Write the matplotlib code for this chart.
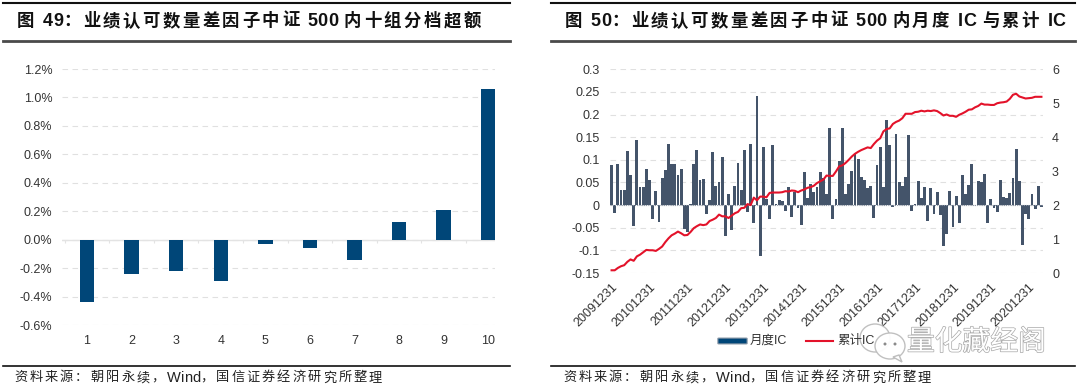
import numpy as np
import matplotlib
matplotlib.use('Agg')
import matplotlib.pyplot as plt
import matplotlib.patheffects as pe
from matplotlib.patches import Ellipse, Polygon, FancyBboxPatch
from matplotlib.lines import Line2D

plt.rcParams['font.family'] = ['Liberation Sans', 'Noto Sans CJK SC']
plt.rcParams['axes.unicode_minus'] = False

# left chart
groups = [1, 2, 3, 4, 5, 6, 7, 8, 9, 10]
excess = [-0.44, -0.24, -0.22, -0.29, -0.03, -0.06, -0.14, 0.125, 0.21, 1.06]
left_ticks = [-0.6, -0.4, -0.2, 0.0, 0.2, 0.4, 0.6, 0.8, 1.0, 1.2]

# right chart
monthly_ic = [
    0.089, -0.018, 0.091, 0.034, 0.033, 0.12, 0.067, -0.047, 0.144, 0.04,
    0.04, 0.08, 0.056, -0.03, 0.031, -0.038, 0.06, 0.078, 0.134, 0.09,
    0.09, 0.067, 0.079, -0.053, -0.06, 0.002, 0.09, 0.121, 0.055, 0.057,
    -0.02, 0.012, 0.118, 0.043, 0.052, 0.106, -0.068, 0.024, -0.055, 0.042,
    0.094, 0.034, 0.122, -0.015, 0.135, -0.04, 0.241, -0.113, 0.129, 0.014,
    -0.03, 0.133, 0.003, 0.012, 0.008, -0.014, 0.041, -0.026, 0.03, -0.006,
    -0.045, 0.074, 0.016, 0.046, 0.028, 0.04, 0.074, 0.06, 0.024, 0.17,
    -0.03, 0.014, 0.097, 0.17, 0.024, 0.046, 0.075, 0.113, 0.102, 0.063,
    0.056, 0.037, 0.043, -0.028, 0.089, 0.129, 0.041, 0.188, 0.133, -0.004,
    0.156, 0.051, 0.043, 0.063, 0.154, -0.012, 0.002, 0.054, 0.016, 0.041,
    -0.036, 0.037, -0.02, 0.03, -0.022, -0.091, -0.063, 0.032, -0.049, 0.02,
    -0.04, 0.067, 0.024, 0.044, 0.09, 0.001, 0.054, 0.052, 0.069, -0.04,
    0.014, -0.007, -0.015, 0.055, 0.018, 0.015, 0.026, 0.06, 0.124, 0.054,
    -0.089, -0.02, -0.031, 0.024, -0.009, 0.042, -0.004,
]
cum_ic = [
    0.08, 0.08, 0.15, 0.2, 0.23, 0.33, 0.4, 0.36, 0.49, 0.54,
    0.61, 0.68, 0.67, 0.67, 0.65, 0.71, 0.78, 0.91, 1.02, 1.11,
    1.16, 1.22, 1.17, 1.11, 1.12, 1.21, 1.32, 1.38, 1.43, 1.41,
    1.43, 1.53, 1.57, 1.62, 1.72, 1.67, 1.67, 1.62, 1.69, 1.76,
    1.8, 1.91, 1.92, 2.03, 2.0, 2.22, 2.14, 2.25, 2.25, 2.23,
    2.36, 2.37, 2.37, 2.37, 2.38, 2.41, 2.4, 2.43, 2.42, 2.38,
    2.43, 2.46, 2.51, 2.53, 2.57, 2.65, 2.7, 2.75, 2.87, 2.86,
    2.86, 2.99, 3.14, 3.17, 3.24, 3.33, 3.43, 3.51, 3.57, 3.62,
    3.66, 3.7, 3.68, 3.8, 3.9, 3.97, 4.17, 4.24, 4.26, 4.39,
    4.45, 4.49, 4.56, 4.69, 4.69, 4.69, 4.74, 4.75, 4.78, 4.76,
    4.78, 4.77, 4.79, 4.77, 4.71, 4.64, 4.67, 4.63, 4.63, 4.6,
    4.66, 4.7, 4.75, 4.81, 4.82, 4.88, 4.92, 4.99, 4.96, 4.96,
    4.95, 4.95, 5.0, 5.02, 5.03, 5.05, 5.13, 5.25, 5.28, 5.2,
    5.17, 5.14, 5.15, 5.16, 5.19, 5.19, 5.19,
]
date_labels = ['20091231', '20101231', '20111231', '20121231', '20131231', '20141231',
               '20151231', '20161231', '20171231', '20181231', '20191231', '20201231']
ic_ticks = [-0.15, -0.1, -0.05, 0, 0.05, 0.1, 0.15, 0.2, 0.25, 0.3]
ic_tick_labels = ['-0.15', '-0.1', '-0.05', '0', '0.05', '0.1', '0.15', '0.2', '0.25', '0.3']
cum_ticks = [0, 1, 2, 3, 4, 5, 6]

titles = ['图 49:业绩认可数量差因子中证 500 内十组分档超额'.replace(':', '\uff1a'),
          '图 50:业绩认可数量差因子中证 500 内月度 IC 与累计 IC'.replace(':', '\uff1a')]
source = '资料来源\uff1a朝阳永续\uff0cWind\uff0c国信证券经济研究所整理'
legend_labels = ['月度IC', '累计IC']
watermark = '量化藏经阁'

W, H = 1080, 390
fig = plt.figure(figsize=(W / 100, H / 100), dpi=100)
renderer = fig.canvas.get_renderer()


def px_axes(x0, y0, x1, y1):
    return fig.add_axes([x0 / W, 1 - y1 / H, (x1 - x0) / W, (y1 - y0) / H])


def rule(x0, x1, y, color='#111111', lw=1.5):
    fig.add_artist(Line2D([x0 / W, x1 / W], [1 - y / H, 1 - y / H], color=color, lw=lw))


def clean(ax):
    for s in ax.spines.values():
        s.set_visible(False)
    ax.grid(axis='y', color='#E0E0E0', ls=(0, (5, 4)), lw=0.8)
    ax.set_axisbelow(True)


def spaced_text(x, y, text, size, pitch, space=6, cjk_weight='normal', latin_weight='normal',
                latin_size=None, latin_gap=0.0, color='#111111'):
    # one glyph at a time, the source has wide letter spacing
    for ch in text:
        if ch == ' ':
            x += space
        elif ord(ch) > 127:
            fig.text(x / W, 1 - y / H, ch, fontsize=size, fontweight=cjk_weight, color=color, va='center')
            x += pitch
        else:
            t = fig.text(x / W, 1 - y / H, ch, fontsize=latin_size or size, fontweight=latin_weight,
                         color=color, va='center')
            x += t.get_window_extent(renderer).width + latin_gap


# left
ax = px_axes(62, 69, 495, 325)
ax.bar(groups, excess, width=0.325, color='#004678', zorder=3)
ax.axhline(0, color='#E3E3E3', lw=1, zorder=2)
ax.vlines(np.array(groups) - 0.5, -0.02, 0, color='#E3E3E3', lw=0.8, zorder=2)
ax.set_xlim(0.44, 10.15)
ax.set_ylim(-0.6, 1.2)
ax.set_yticks(left_ticks)
ax.set_yticklabels(['%.1f%%' % v for v in left_ticks])
ax.set_xticks(groups)
ax.tick_params(length=0, labelsize=9, labelcolor='#333333')
ax.tick_params(axis='x', pad=7)
ax.tick_params(axis='y', pad=7)
clean(ax)

# right
ax2 = px_axes(610, 69.3, 1043, 273)
x = np.arange(len(monthly_ic))
ax2.bar(x, monthly_ic, width=0.9, color='#44546A', zorder=3)
ax2.axhline(0, color='#8C96A5', lw=0.8, ls=(0, (1, 1)), zorder=4)
ax2.set_xlim(-0.5, len(monthly_ic) - 0.5)
ax2.set_ylim(-0.15, 0.3)
ax2.set_yticks(ic_ticks)
ax2.set_yticklabels(ic_tick_labels)
ax2.set_xticks(x[::12])
ax2.set_xticklabels(date_labels, rotation=45, ha='right', rotation_mode='anchor')
ax2.tick_params(length=0, labelsize=9, labelcolor='#333333')
ax2.tick_params(axis='y', pad=7.5)
ax2.tick_params(axis='x', pad=6)
clean(ax2)

ax3 = ax2.twinx()
ax3.plot(np.arange(len(cum_ic)), cum_ic, color='#E3122A', lw=1.5, zorder=5)
ax3.set_ylim(0, 6)
ax3.set_yticks(cum_ticks)
ax3.tick_params(length=0, labelsize=9, labelcolor='#333333', pad=6.5)
for s in ax3.spines.values():
    s.set_visible(False)

# legend by hand
fig.add_artist(FancyBboxPatch((719 / W, 1 - 343.5 / H), 27 / W, 5 / H, boxstyle='round,pad=0.001',
                              facecolor='#004678', edgecolor='#7F8FA0', lw=0.8,
                              transform=fig.transFigure))
fig.text(750 / W, 1 - 341 / H, legend_labels[0], fontsize=9, color='#333333', va='center')
rule(806, 833, 341, color='#E3122A', lw=1.5)
fig.text(837 / W, 1 - 341 / H, legend_labels[1], fontsize=9, color='#333333', va='center')

# header / footer rules
rule(3, 510, 3)
rule(3, 510, 41, color='#4A4A4A', lw=2)
rule(551, 1075, 3)
rule(551, 1075, 41, color='#4A4A4A', lw=2)
rule(3, 510, 366, lw=1.2)
rule(551, 1075, 366, lw=1.2)

spaced_text(17, 21, titles[0], 12.5, 19.9, cjk_weight='bold', latin_weight='bold', latin_size=13)
spaced_text(565, 21, titles[1], 12.5, 19.9, cjk_weight='bold', latin_weight='bold', latin_size=13)
spaced_text(14, 378, source, 9.5, 15.3, latin_size=10.5, color='#222222')
spaced_text(563, 378, source, 9.5, 15.3, latin_size=10.5, color='#222222')

# watermark
for cx, cy, rx, ry in [(875, 338, 15, 14), (890, 346, 15, 13)]:
    fig.add_artist(Ellipse((cx / W, 1 - cy / H), 2 * rx / W, 2 * ry / H, facecolor='white',
                           edgecolor='#BDBDBD', lw=1, alpha=0.95))
for ex, ey in [(885, 344), (895, 344)]:
    fig.add_artist(Ellipse((ex / W, 1 - ey / H), 3 / W, 3 / H, facecolor='#8A8A8A', edgecolor='none'))
fig.add_artist(Polygon([[(893 / W), 1 - 357 / H], [(902 / W), 1 - 362 / H], [(899 / W), 1 - 355 / H]],
                       closed=True, facecolor='white', edgecolor='#BDBDBD', lw=1))
fig.text(907 / W, 1 - 343 / H, watermark, fontsize=20, color='white', va='center',
         path_effects=[pe.withStroke(linewidth=1.0, foreground='#A8A8A8')])

fig.savefig('out.png', dpi=100)
